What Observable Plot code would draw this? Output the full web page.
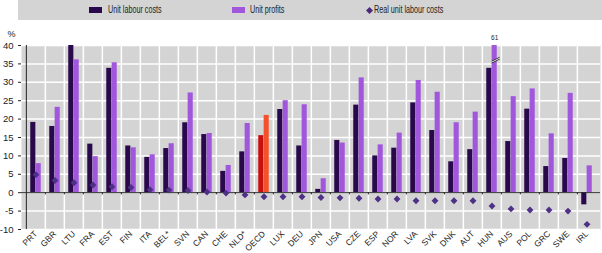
<!DOCTYPE html>
<html><head><meta charset="utf-8">
<script src="https://cdn.jsdelivr.net/npm/d3@7"></script>
<script src="https://cdn.jsdelivr.net/npm/@observablehq/plot@0.6"></script>
<style>
body{margin:0;background:#fff;font-family:"Liberation Sans",Arial,sans-serif;}
#wrap{position:relative;width:602px;height:253px;overflow:hidden}
#legend{position:absolute;left:18px;top:0;width:584px;height:20px;background:#d4d4d4;font-size:10px;color:#222}
.txt{position:absolute;top:0;height:20px;line-height:20px;white-space:nowrap;transform:scaleX(0.72);transform-origin:0 50%}
.sw{position:absolute;top:7px;width:13px;height:6px}
#chart{position:absolute;left:0;top:20px}
</style></head>
<body>
<div id="wrap">
  <div id="legend">
    <div class="sw" style="left:71px;background:#29094b"></div><div class="txt" style="left:90px">Unit labour costs</div>
    <div class="sw" style="left:214px;background:#a057dc"></div><div class="txt" style="left:232px">Unit profits</div>
    <svg style="position:absolute;left:348px;top:7px" width="7" height="7"><polygon points="3.5,0 7,3.5 3.5,7 0,3.5" fill="#4b2a7e"/></svg><div class="txt" style="left:356px">Real unit labour costs</div>
  </div>
  <div id="chart"></div>
</div>
<script>
const countries = ["PRT","GBR","LTU","FRA","EST","FIN","ITA","BEL*","SVN","CAN","CHE","NLD*","OECD","LUX","DEU","JPN","USA","CZE","ESP","NOR","LVA","SVK","DNK","AUT","HUN","AUS","POL","GRC","SWE","IRL"];
const unitLabourCosts = [19.1,18.0,40.0,13.2,33.8,12.7,9.6,12.0,19.0,15.8,5.8,11.1,15.5,22.6,12.7,0.9,14.2,23.8,10.0,12.1,24.4,16.9,8.4,11.7,33.8,13.9,22.7,7.1,9.3,-3.3];
const unitProfits = [7.9,23.2,36.1,9.8,35.3,12.2,10.3,13.3,27.1,16.1,7.4,18.8,21.0,25.0,23.9,3.8,13.5,31.2,13.0,16.2,30.5,27.3,19.0,21.9,61,26.1,28.2,16.0,27.0,7.3];
const realUnitLabourCosts = [4.9,3.3,2.7,2.1,1.6,1.4,0.8,0.7,0.6,0.2,-0.1,-0.6,-1.1,-1.1,-1.1,-1.3,-1.4,-1.5,-1.7,-1.7,-2.2,-2.2,-2.2,-2.2,-3.6,-4.4,-4.7,-4.7,-5.0,-8.6];
const yTicks = [-10,-5,0,5,10,15,20,25,30,35,40];
const highlight = "OECD";

const W=602,H=233,ML=21,MR=2,MT=25,MB=24;
const bw=(W-ML-MR)/countries.length;
const barW=5.4;
const cap=40;
const breakAt=36;
const data = countries.map((c,i)=>({c, ulc:unitLabourCosts[i], profits:unitProfits[i], rulc:realUnitLabourCosts[i]}));
const over = data.filter(d=>d.profits>cap);
const breakSym = {draw(ctx){ ctx.moveTo(-4,1); ctx.lineTo(4,-3); ctx.moveTo(-4,2.8); ctx.lineTo(4,-1.2); }};
const breakFill = {draw(ctx){ ctx.moveTo(-4,1); ctx.lineTo(4,-3); ctx.lineTo(4,-1.2); ctx.lineTo(-4,2.8); ctx.closePath(); }};
const font = '"Liberation Sans",Arial,sans-serif';

const plot = Plot.plot({
  width:W,height:H,marginLeft:ML,marginRight:MR,marginTop:MT,marginBottom:MB,
  style:{fontFamily:font,fontSize:"9px",color:"#222",background:"transparent"},
  x:{type:"band",domain:countries,padding:0,label:null},
  y:{domain:[-10,40],label:null},
  marks:[
    Plot.frame({fill:"#d4d4d4",stroke:null}),
    Plot.gridY(yTicks,{stroke:"white",strokeOpacity:1,strokeWidth:1.5}),
    Plot.ruleX(countries.slice(1),{x:d=>d,dx:-bw/2,stroke:"white",strokeWidth:1.5}),
    Plot.barY(data,{x:"c",y:d=>Math.min(d.ulc,cap),insetLeft:bw/2-barW,insetRight:bw/2,fill:d=>d.c===highlight?"#c8100c":"#29094b"}),
    Plot.barY(data,{x:"c",y:d=>Math.min(d.profits,cap),insetLeft:bw/2,insetRight:bw/2-barW,fill:d=>d.c===highlight?"#f4502c":"#a057dc"}),
    Plot.ruleY([0],{stroke:"#222",strokeWidth:1}),
    Plot.ruleX(countries.slice(1),{x:d=>d,dx:-bw/2,y1:0,y2:-0.6,stroke:"#222"}),
    Plot.ruleX([countries[0]],{x:d=>d,dx:-bw/2,stroke:"#222"}),
    Plot.dot(data,{x:"c",y:"rulc",symbol:"diamond2",r:3.1,fill:"#4e3087",stroke:null}),
    Plot.dot(over,{x:"c",y:()=>breakAt,symbol:breakFill,dx:barW/2+1,fill:"white",stroke:null}),
    Plot.dot(over,{x:"c",y:()=>breakAt,symbol:breakSym,dx:barW/2+1,fill:"none",stroke:"#222",strokeWidth:0.9}),
    Plot.text(over,{x:"c",y:()=>cap,text:d=>String(d.profits),dx:barW/2,dy:-7.5,fontSize:6.5,fill:"#222"}),
    Plot.axisY(yTicks,{tickSize:3,tickPadding:5,tickFormat:d=>String(d),fontSize:9.5}),
    Plot.axisX({tickRotate:-45,tickSize:0,tickPadding:3,fontSize:8.5}),
    Plot.text(["%"],{frameAnchor:"top-left",dx:-14,dy:-14.5,fontSize:9,fill:"#222"})
  ]
});
document.getElementById("chart").appendChild(plot);
</script>
</body></html>
